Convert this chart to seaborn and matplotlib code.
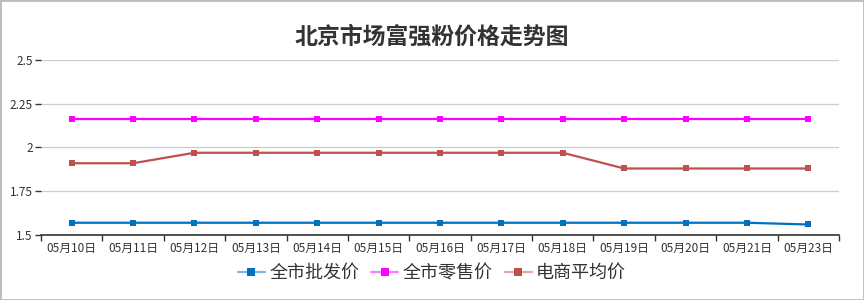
import matplotlib
matplotlib.use("Agg")
import matplotlib.pyplot as plt
import seaborn as sns
import pandas as pd
import numpy as np
from matplotlib.lines import Line2D
from matplotlib.patches import Rectangle

dates = ["05月10日", "05月11日", "05月12日", "05月13日", "05月14日", "05月15日", "05月16日",
         "05月17日", "05月18日", "05月19日", "05月20日", "05月21日", "05月23日"]
wholesale = [1.57, 1.57, 1.57, 1.57, 1.57, 1.57, 1.57, 1.57, 1.57, 1.57, 1.57, 1.57, 1.56]
retail = [2.16, 2.16, 2.16, 2.16, 2.16, 2.16, 2.16, 2.16, 2.16, 2.16, 2.16, 2.16, 2.16]
ecommerce = [1.91, 1.91, 1.97, 1.97, 1.97, 1.97, 1.97, 1.97, 1.97, 1.88, 1.88, 1.88, 1.88]
series_names = ["全市批发价", "全市零售价", "电商平均价"]
colors = ["#0070C0", "#FF00FF", "#C0504D"]
title = "北京市场富强粉价格走势图"

sns.set_theme(style="white")
plt.rcParams['font.family'] = ['Noto Sans CJK SC', 'DejaVu Sans']

rows = []
for name, vals in zip(series_names, [wholesale, retail, ecommerce]):
    for i, (d, v) in enumerate(zip(dates, vals)):
        rows.append({"idx": i, "date": d, "value": v, "series": name})
df = pd.DataFrame(rows)

fig = plt.figure(figsize=(8.64, 3.0), dpi=100)
ax = fig.add_axes([0.0475, 0.2167, 0.9235, 0.5833])

sns.lineplot(data=df, x="idx", y="value", hue="series", hue_order=series_names,
             palette=colors, marker="s", markersize=4, markeredgewidth=0,
             linewidth=1.6, ax=ax, legend=False)

ax.set_xlim(-0.5, len(dates) - 0.5)
ax.set_ylim(1.5, 2.5)
ax.set_yticks([1.5, 1.75, 2.0, 2.25, 2.5])
ax.set_yticklabels(["1.5", "1.75", "2", "2.25", "2.5"])
ax.yaxis.grid(True, color="#CCCCCC", linewidth=0.9)
ax.xaxis.grid(False)
ax.set_xticks(range(len(dates)))
ax.set_xticklabels(dates)
ax.set_xticks(np.arange(-0.5, len(dates)), minor=True)
ax.tick_params(axis="x", which="major", length=0, labelsize=8.5, colors="#333333", pad=5)
ax.tick_params(axis="x", which="minor", length=4, width=1, color="#333333", bottom=True)
ax.tick_params(axis="y", which="major", length=4, width=1, color="#333333", labelsize=8.5,
               labelcolor="#333333", left=True, pad=2)
ax.set_xlabel("")
ax.set_ylabel("")
for s in ["top", "right", "left"]:
    ax.spines[s].set_visible(False)
ax.spines["bottom"].set_color("#333333")
ax.spines["bottom"].set_linewidth(1.2)

fig.text(0.5, 0.877, title, ha="center", va="center", fontsize=16.5, fontweight="bold",
         color="#333333")

light = ["#7FB7E0", "#FF7FFF", "#DFA7A6"]
handles = [Line2D([0], [0], color=lc, lw=1.6, marker="s", markersize=6,
                  markerfacecolor=c, markeredgewidth=0) for c, lc in zip(colors, light)]
fig.legend(handles, series_names, loc="center", bbox_to_anchor=(0.5, 0.09), ncol=3,
           frameon=False, fontsize=13, handlelength=1.5, handletextpad=0.25,
           columnspacing=0.65, labelcolor="#333333")

fig.patches.append(Rectangle((0, 0), 1, 1, transform=fig.transFigure, fill=False,
                             edgecolor="#BBBBBB", linewidth=2, zorder=10))
fig.savefig("out.png", dpi=100)
